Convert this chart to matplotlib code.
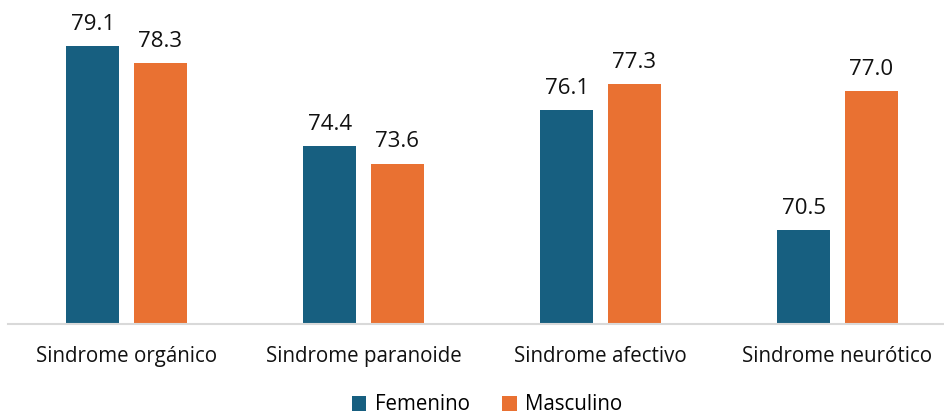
import numpy as np
import matplotlib
matplotlib.use('Agg')
import matplotlib.pyplot as plt

categories = ['Sindrome orgánico', 'Sindrome paranoide',
              'Sindrome afectivo', 'Sindrome neurótico']
femenino = [79.1, 74.4, 76.1, 70.5]
masculino = [78.3, 73.6, 77.3, 77.0]

c_fem = '#175F80'
c_mas = '#E97132'

plt.rcParams['font.family'] = ['Open Sans', 'DejaVu Sans']

fig = plt.figure(figsize=(9.44, 4.17), dpi=100)
ax = fig.add_axes([8/944, 93/417, 948/944, 301/417])

x = np.arange(len(categories))
w = 0.224
off = 0.143
b1 = ax.bar(x - off, femenino, w, color=c_fem, label='Femenino')
b2 = ax.bar(x + off, masculino, w, color=c_mas, label='Masculino')

for bars in (b1, b2):
    ax.bar_label(bars, fmt='%.1f', padding=8, fontsize=16, color='#111111')

ax.set_ylim(66.1, 80.17)
ax.set_xlim(-0.5, 3.5)
ax.set_yticks([])
ax.set_xticks(x)
ax.set_xticklabels(categories, fontsize=14.8, color='#111111')
ax.tick_params(axis='x', length=0, pad=16)
for s in ['top', 'right', 'left']:
    ax.spines[s].set_visible(False)
ax.spines['bottom'].set_color('#D9D9D9')
ax.spines['bottom'].set_linewidth(1.5)

fig.legend(loc='center', bbox_to_anchor=(0.516, 12/417), ncol=2,
           frameon=False, fontsize=14.8, handlelength=0.7, handleheight=0.7,
           handletextpad=0.4, columnspacing=1.6)

fig.savefig('out.png', dpi=100)
